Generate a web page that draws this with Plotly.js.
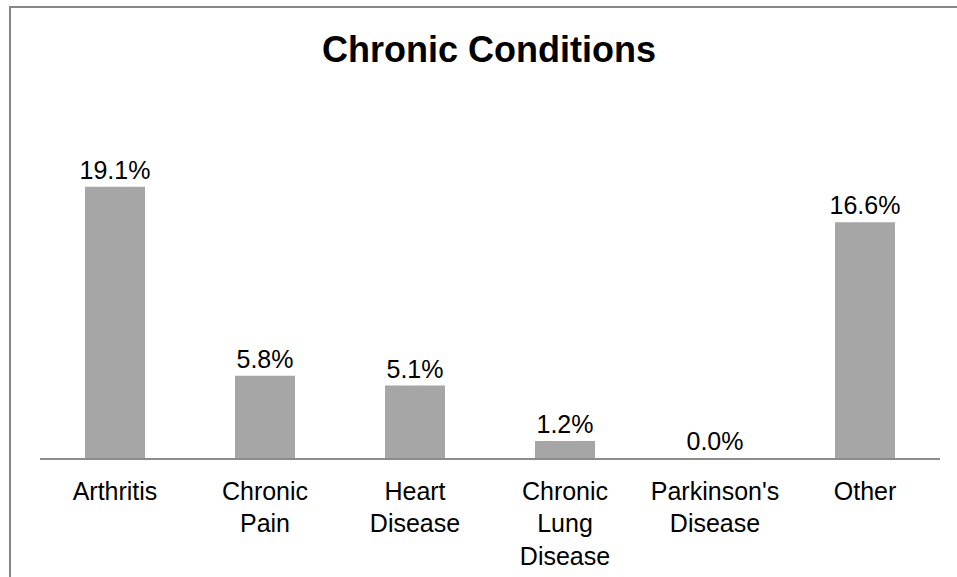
<!DOCTYPE html>
<html>
<head>
<meta charset="utf-8">
<script src="https://cdn.plot.ly/plotly-3.0.1.min.js"></script>
<style>
  html, body { margin: 0; padding: 0; background: #ffffff; }
  #frame { position: absolute; left: 9px; top: 6px; width: 960px; height: 580px;
           border-left: 2px solid #878787; border-top: 2px solid #878787; z-index: 0; }
  #chart { position: absolute; left: 0; top: 0; width: 957px; height: 577px; z-index: 1; }
</style>
</head>
<body>
<div id="frame"></div>
<div id="chart"></div>
<script>
const categories = ["Arthritis", "Chronic<br>Pain", "Heart<br>Disease", "Chronic<br>Lung<br>Disease", "Parkinson's<br>Disease", "Other"];
const values = [19.1, 5.8, 5.1, 1.2, 0.0, 16.6];
const labels = values.map(v => v.toFixed(1) + "%");

const FONT = "Liberation Sans, Arial, sans-serif";

const trace = {
  type: "bar",
  x: categories,
  y: values,
  text: labels,
  textposition: "outside",
  constraintext: "none",
  textfont: { family: FONT, size: 25, color: "#000000" },
  cliponaxis: false,
  marker: { color: "#a6a6a6" },
  hoverinfo: "none"
};

const layout = {
  width: 957,
  height: 577,
  margin: { l: 40, r: 17, t: 103, b: 119, pad: 0 },
  paper_bgcolor: "rgba(0,0,0,0)",
  plot_bgcolor: "rgba(0,0,0,0)",
  bargap: 0.6,
  showlegend: false,
  font: { family: FONT, color: "#000000" },
  title: {
    text: "<b>Chronic Conditions</b>",
    font: { family: FONT, size: 36, color: "#000000" },
    x: 0.511, xanchor: "center",
    y: 0.915, yanchor: "middle",
    xref: "container", yref: "container"
  },
  xaxis: {
    type: "category",
    showline: true,
    linecolor: "#8c8c8c",
    linewidth: 1.5,
    showgrid: false,
    zeroline: false,
    ticks: "",
    ticklabelstandoff: 10,
    tickfont: { family: FONT, size: 25, color: "#000000" },
    fixedrange: true
  },
  yaxis: {
    range: [0, 25],
    visible: false,
    showgrid: false,
    zeroline: false,
    fixedrange: true
  }
};

Plotly.newPlot("chart", [trace], layout, { displayModeBar: false, staticPlot: true });
</script>
</body>
</html>
